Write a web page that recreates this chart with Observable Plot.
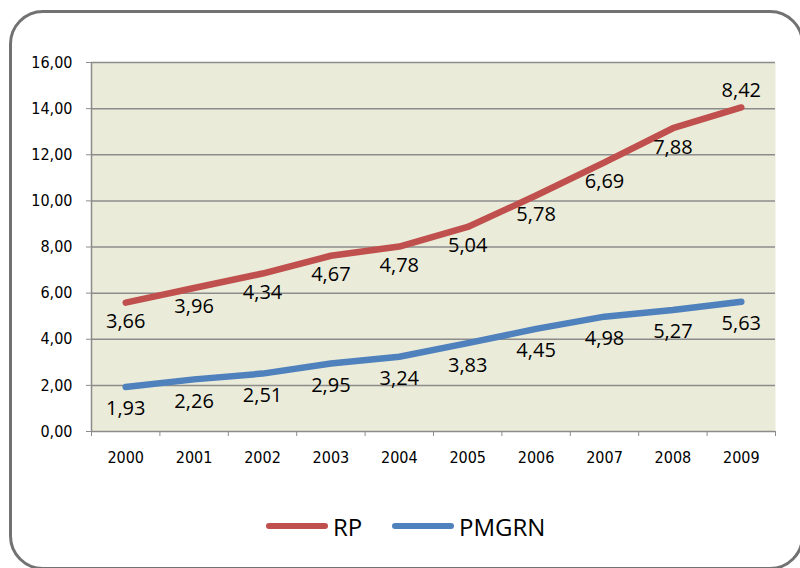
<!DOCTYPE html>
<html>
<head>
<meta charset="utf-8">
<script src="https://cdn.jsdelivr.net/npm/d3@7"></script>
<script src="https://cdn.jsdelivr.net/npm/@observablehq/plot@0.6"></script>
<style>
  html, body { margin: 0; padding: 0; background: #fff; }
  #wrap { position: relative; width: 800px; height: 568px; overflow: hidden; }
  #frame { position: absolute; left: 9px; top: 10px; width: 795px; height: 560px;
           border: 3px solid #727272; border-radius: 34px; box-sizing: border-box; }
  #chart { position: absolute; left: 0; top: 0; }
  #chart .cond text { font-stretch: condensed; }
  #legend { position: absolute; left: 0; top: 508px; width: 800px; height: 36px;
            font-family: "Open Sans", sans-serif; font-size: 24px; color: #000; }
  .item { position: absolute; top: 0; display: flex; align-items: center; height: 36px; }
  .swatch { width: 62px; height: 6px; border-radius: 3px; margin-right: 5px; }
</style>
</head>
<body>
<div id="wrap">
  <div id="chart"></div>
  <div id="frame"></div>
  <div id="legend">
    <div class="item" style="left:266px"><div class="swatch" style="background:#C0504D"></div><span>RP</span></div>
    <div class="item" style="left:392px"><div class="swatch" style="background:#4F81BD"></div><span>PMGRN</span></div>
  </div>
</div>
<script>
const years = [2000, 2001, 2002, 2003, 2004, 2005, 2006, 2007, 2008, 2009];
const rp    = [3.66, 3.96, 4.34, 4.67, 4.78, 5.04, 5.78, 6.69, 7.88, 8.42];
const pmgrn = [1.93, 2.26, 2.51, 2.95, 3.24, 3.83, 4.45, 4.98, 5.27, 5.63];
const yTicks = [0, 2, 4, 6, 8, 10, 12, 14, 16];

const fmt = d3.format(".2f");
const comma = v => fmt(v).replace(".", ",");

// RP is drawn stacked on top of PMGRN (as in the original stacked line chart)
const pmData = years.map((y, i) => ({year: y, value: pmgrn[i], pos: pmgrn[i]}));
const rpData = years.map((y, i) => ({year: y, value: rp[i], pos: rp[i] + pmgrn[i]}));
const lastYear = years[years.length - 1];
const boundaries = [...years.map(y => y - 0.5), lastYear + 0.5];

const labelFont = {fontFamily: "'Open Sans', sans-serif", fontSize: 20, fill: "#000"};
const axisFont = "'DejaVu Sans Condensed', 'DejaVu Sans', sans-serif";

const chart = Plot.plot({
  width: 800,
  height: 568,
  marginLeft: 91,
  marginRight: 25,
  marginTop: 62,
  marginBottom: 137,
  style: {fontFamily: "'Open Sans', sans-serif", fontSize: "15px", color: "#000", background: "transparent"},
  x: {type: "linear", domain: [years[0] - 0.5, lastYear + 0.5]},
  y: {domain: [0, 16]},
  marks: [
    Plot.frame({fill: "#EBEBD9", stroke: null}),
    Plot.gridY(yTicks, {stroke: "#8C8C8C", strokeOpacity: 1, strokeWidth: 1.5}),
    Plot.ruleX([years[0] - 0.5], {stroke: "#8C8C8C", strokeWidth: 1.5}),
    Plot.axisY({ticks: yTicks, tickSize: 5, tickPadding: 14, tickFormat: comma, label: null, stroke: "#8C8C8C", fill: "#000", fontSize: 16, fontFamily: axisFont, className: "cond"}),
    Plot.axisX({ticks: boundaries, tickSize: 5, tickFormat: () => "", label: null, stroke: "#8C8C8C"}),
    Plot.axisX({ticks: years, tickSize: 0, tickPadding: 20, tickFormat: d => String(d), label: null, fill: "#000", fontSize: 16, fontFamily: axisFont, className: "cond"}),
    Plot.lineY(pmData, {x: "year", y: "pos", stroke: "#4F81BD", strokeWidth: 6.5, strokeLinecap: "round", strokeLinejoin: "round"}),
    Plot.lineY(rpData, {x: "year", y: "pos", stroke: "#C0504D", strokeWidth: 6.5, strokeLinecap: "round", strokeLinejoin: "round"}),
    Plot.text(pmData, {x: "year", y: "pos", text: d => comma(d.value), dy: 22, ...labelFont}),
    Plot.text(rpData.filter(d => d.year !== lastYear), {x: "year", y: "pos", text: d => comma(d.value), dy: 19, ...labelFont}),
    Plot.text(rpData.filter(d => d.year === lastYear), {x: "year", y: "pos", text: d => comma(d.value), dy: -17, ...labelFont})
  ]
});
document.getElementById("chart").appendChild(chart);
</script>
</body>
</html>
